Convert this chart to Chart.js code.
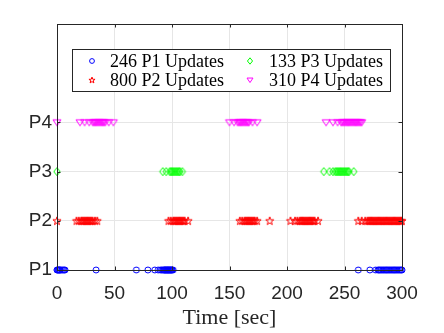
<!DOCTYPE html>
<html>
<head>
<meta charset="utf-8">
<script src="https://cdn.jsdelivr.net/npm/chart.js@4/dist/chart.umd.min.js"></script>
<style>
  body { margin: 0; background: #fff; }
  canvas { display: block; }
</style>
</head>
<body>
<canvas id="updChart" width="444" height="333"></canvas>
<script>
// update times (sec), one list per process
var p1Times = [0, 0.5, 1, 1.5, 2, 2.5, 3, 4, 5, 6, 7, 34, 69, 79, 85, 88, 90, 91, 92, 93, 93.5, 94, 94.5, 95, 95.5, 96, 96.5, 97, 97.5, 98, 98.5, 99, 99.5, 100, 101,
  262, 272, 277, 279, 280, 281, 282, 283, 284, 285, 286, 287, 288, 289, 290, 291, 292, 293, 294, 295, 296, 297, 298, 299, 300];
var p2Times = [0, 17, 19, 21, 22, 23, 24, 25, 26, 27, 28, 29, 30, 31, 33, 35,
  97, 99, 101, 102, 103, 104, 105, 106, 107, 108, 109, 110, 111, 114,
  159, 161, 163, 164, 165, 166, 167, 168, 169, 170, 171, 172, 174, 185,
  203, 207, 209, 211, 212, 213, 214, 215, 216, 217, 218, 219, 220, 221, 222, 223, 224, 227,
  262, 265, 268, 270, 271, 272, 273, 274, 275, 276, 277, 278, 279, 280, 281, 282, 283, 284, 285, 286, 287, 288, 289, 290, 291, 292, 293, 294, 295, 296, 297, 298, 299, 300];
var p3Times = [0, 92, 95, 98, 99, 100, 101, 102, 103, 104, 105, 106, 107, 109,
  232, 237, 240, 242, 243, 244, 245, 246, 247, 248, 249, 250, 251, 252, 253, 254, 258];
var p4Times = [0, 20, 24, 28, 31, 32, 33, 34, 35, 36, 37, 38, 39, 40, 41, 42, 45, 49,
  150, 154, 157, 158, 159, 160, 161, 162, 163, 164, 165, 166, 167, 170, 174,
  234, 240, 244, 247, 248, 249, 250, 251, 252, 253, 254, 255, 256, 257, 258, 259, 260, 261, 262, 263, 264, 265];

var procLabels = ['P1', 'P2', 'P3', 'P4'];
var legendLabels = ['246 P1 Updates', '800 P2 Updates', '133 P3 Updates', '310 P4 Updates'];
var xTicks = [0, 50, 100, 150, 200, 250, 300];

var blue = '#0000ff', red = '#ff0000', green = '#00ff00', magenta = '#ff00ff';
var axisColor = '#262626';

// marker images (matlab-ish outline markers)
function makeMarker(kind, color, s) {
  var c = document.createElement('canvas');
  var w = Math.ceil(10 * s) + 2, h = Math.ceil(10 * s) + 2;
  c.width = w; c.height = h;
  var g = c.getContext('2d');
  var cx = w / 2, cy = h / 2;
  g.strokeStyle = color;
  g.lineWidth = 1;
  g.beginPath();
  if (kind == 'star') {
    var R = 4.3 * s, r = R * 0.4;
    for (var i = 0; i < 10; i++) {
      var rad = (i % 2 == 0) ? R : r;
      var a = -Math.PI / 2 + i * Math.PI / 5;
      var px = cx + rad * Math.cos(a), py = cy + 0.3 + rad * Math.sin(a);
      if (i == 0) g.moveTo(px, py); else g.lineTo(px, py);
    }
  } else if (kind == 'diamond') {
    g.moveTo(cx, cy - 4 * s);
    g.lineTo(cx + 3.2 * s, cy);
    g.lineTo(cx, cy + 4 * s);
    g.lineTo(cx - 3.2 * s, cy);
  } else if (kind == 'tri') {
    g.moveTo(cx - 4 * s, cy - 2.6 * s);
    g.lineTo(cx + 4 * s, cy - 2.6 * s);
    g.lineTo(cx, cy + 3.4 * s);
  } else {
    g.arc(cx, cy, 3 * s, 0, Math.PI * 2);
  }
  g.closePath();
  g.stroke();
  return c;
}

var markCircle = makeMarker('circle', blue, 1);
var markStar = makeMarker('star', red, 1);
var markDiamond = makeMarker('diamond', green, 1);
var markTri = makeMarker('tri', magenta, 1);
var legendMarks = [makeMarker('circle', blue, 0.8), makeMarker('star', red, 0.75),
  makeMarker('diamond', green, 0.8), makeMarker('tri', magenta, 0.75)];

function toPoints(times, level) {
  return times.map(function (t) { return { x: t, y: level }; });
}

// box around the axes + inward ticks + legend inside the plot
var boxPlugin = {
  id: 'boxPlugin',
  afterDraw: function (chart) {
    var ctx = chart.ctx, a = chart.chartArea;
    var xs = chart.scales.x, ys = chart.scales.y;
    ctx.save();
    ctx.strokeStyle = axisColor;
    ctx.lineWidth = 1;
    ctx.strokeRect(Math.round(a.left) + 0.5, Math.round(a.top) + 0.5,
      Math.round(a.right - a.left), Math.round(a.bottom - a.top));
    ctx.beginPath();
    xTicks.forEach(function (v) {
      var px = Math.round(xs.getPixelForValue(v)) + 0.5;
      ctx.moveTo(px, a.bottom); ctx.lineTo(px, a.bottom - 3.5);
      ctx.moveTo(px, a.top); ctx.lineTo(px, a.top + 3.5);
    });
    [1, 2, 3, 4].forEach(function (v) {
      var py = Math.round(ys.getPixelForValue(v)) + 0.5;
      ctx.moveTo(a.left, py); ctx.lineTo(a.left + 3.5, py);
      ctx.moveTo(a.right, py); ctx.lineTo(a.right - 3.5, py);
    });
    ctx.stroke();

    // legend
    var lx = 72.5, ly = 49.5, lw = 318, lh = 42;
    ctx.fillStyle = '#fff';
    ctx.fillRect(lx, ly, lw, lh);
    ctx.strokeStyle = '#262626';
    ctx.strokeRect(lx, ly, lw, lh);
    var spots = [[92, 61, 110], [92, 80, 110], [250, 61, 269], [250, 80, 269]];
    ctx.font = '18px "Liberation Serif", serif';
    ctx.fillStyle = '#000';
    ctx.textBaseline = 'middle';
    ctx.textAlign = 'left';
    spots.forEach(function (s, i) {
      var m = legendMarks[i];
      ctx.drawImage(m, Math.round(s[0] - m.width / 2), Math.round(s[1] - m.height / 2));
      ctx.fillText(legendLabels[i], s[2], s[1] + 1);
    });
    ctx.restore();
  }
};

var myChart = new Chart(document.getElementById('updChart'), {
  type: 'scatter',
  data: {
    datasets: [
      { label: legendLabels[0], data: toPoints(p1Times, 1), pointStyle: markCircle, pointRadius: 4, clip: false },
      { label: legendLabels[1], data: toPoints(p2Times, 2), pointStyle: markStar, pointRadius: 4, clip: false },
      { label: legendLabels[2], data: toPoints(p3Times, 3), pointStyle: markDiamond, pointRadius: 4, clip: false },
      { label: legendLabels[3], data: toPoints(p4Times, 4), pointStyle: markTri, pointRadius: 4, clip: false }
    ]
  },
  options: {
    responsive: false,
    animation: false,
    events: [],
    layout: { padding: { left: 0, top: 24, right: 42, bottom: 0 } },
    plugins: { legend: { display: false }, tooltip: { enabled: false } },
    scales: {
      x: {
        type: 'linear',
        min: 0, max: 300,
        afterBuildTicks: function (scale) {
          scale.ticks = xTicks.map(function (v) { return { value: v }; });
        },
        afterFit: function (scale) { scale.height = 63; },
        grid: {
          drawTicks: false,
          color: function (c) { return (c.tick && c.tick.value > 0 && c.tick.value < 300) ? '#e6e6e6' : 'rgba(0,0,0,0)'; }
        },
        border: { display: false },
        ticks: {
          padding: 12,
          color: axisColor,
          font: { family: '"Liberation Sans", Arial, sans-serif', size: 19 },
          maxRotation: 0
        },
        title: {
          display: true,
          text: 'Time [sec]',
          color: axisColor,
          font: { family: '"Liberation Serif", serif', size: 22 },
          padding: { top: 0, bottom: 2 }
        }
      },
      y: {
        type: 'linear',
        min: 1, max: 6,
        afterBuildTicks: function (scale) {
          scale.ticks = [1, 2, 3, 4].map(function (v) { return { value: v }; });
        },
        afterFit: function (scale) { scale.width = 57; },
        grid: {
          drawTicks: false,
          color: function (c) { return (c.tick && c.tick.value > 1) ? '#e6e6e6' : 'rgba(0,0,0,0)'; }
        },
        border: { display: false },
        ticks: {
          padding: 5,
          color: axisColor,
          font: { family: '"Liberation Sans", Arial, sans-serif', size: 19 },
          callback: function (v) { return procLabels[v - 1]; }
        }
      }
    }
  },
  plugins: [boxPlugin]
});
</script>
</body>
</html>
